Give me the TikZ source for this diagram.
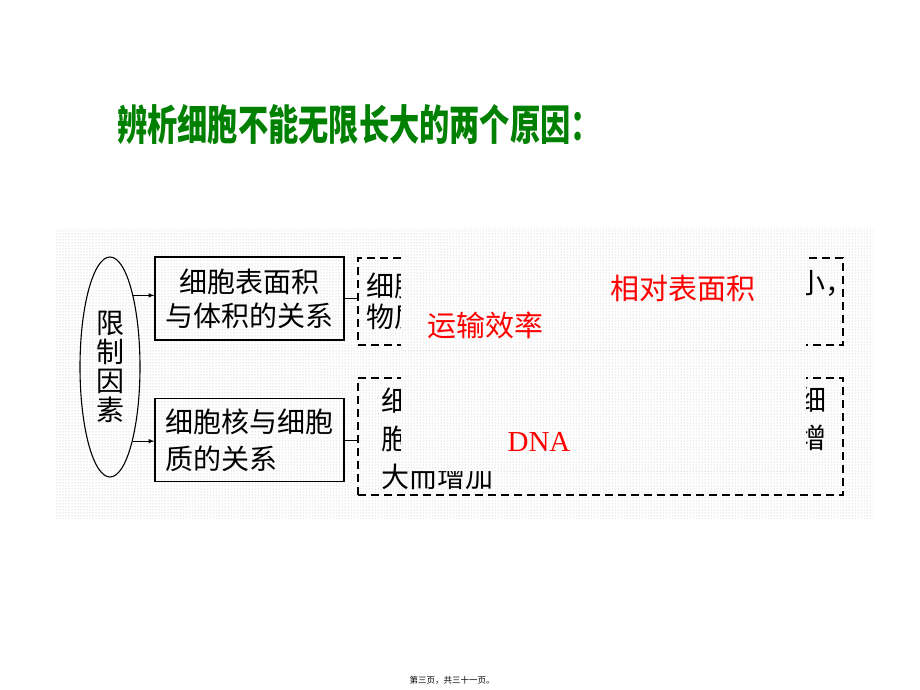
\documentclass[tikz,border=0pt]{standalone}
\usepackage{fontspec}
\setmainfont{Liberation Serif}
\newfontfamily\cjk{Noto Sans CJK SC}
\usepackage{xcolor}
\usepackage{tikz}
\usetikzlibrary{shapes, arrows, positioning, patterns}
\definecolor{titlegreen}{RGB}{0,128,0}
\tikzset{
  factor/.style={draw, ellipse, line width=1.1pt, minimum width=60pt, minimum height=220pt, inner sep=0pt, align=center},
  relbox/.style={draw, line width=1.2pt, minimum width=189pt, minimum height=83pt, inner sep=0pt},
  dashbox/.style={draw, line width=1.5pt, dash pattern=on 8pt off 5pt, minimum width=485pt},
  frag/.style={inner sep=0pt, align=left},
  answer/.style={text=red, font=\cjk\fontsize{29}{29}\selectfont},
  dotted bg/.style={fill=white, postaction={pattern=dots, pattern color=black!28}}
}
\begin{document}
\begin{tikzpicture}[x=1pt,y=-1pt]
        \useasboundingbox (0,0) rectangle (920,690);
        \fill[white] (0,0) rectangle (920,690);
        \path[dotted bg] (55,228) rectangle (873,518);
        \begin{scope}[every node/.style={font=\cjk\fontsize{28}{34}\selectfont}]
          \node[factor, font=\cjk\fontsize{28}{29}\selectfont] (yinsu) at (110,367) {限\\制\\因\\素};
          \node[relbox, align=center] (biao) at (249.5,298.5) {细胞表面积\\与体积的关系};
          \node[relbox, align=left, font=\cjk\fontsize{28}{37}\selectfont] (he) at (249.5,440) {细胞核与细胞\\质的关系};
          \node[dashbox, minimum height=87pt] (xiao) at (600.5,301.5) {};
          \node[dashbox, minimum height=117pt] (dna) at (600.5,436.5) {};
        \end{scope}
        \begin{scope}[every node/.style={frag, font=\cjk\fontsize{28}{31}\selectfont}]
          \node[anchor=west] (t1) at (366,301.5) {细胞\\物质};
          \node[anchor=east] (t2) at (854,283) {小，};
          \node[anchor=west, font=\cjk\fontsize{28}{38}\selectfont] (t3) at (381,439) {细胞\\胞核\\大而增加};
          \node[anchor=west, font=\cjk\fontsize{28}{38}\selectfont] (t4) at (798,419) {细\\增};
        \end{scope}
        % blanks
        \path[dotted bg] (401,250) rectangle (806,350);
        \path[dotted bg] (401,371) rectangle (806,471);
        \begin{scope}[every edge/.style={draw=black,line width=1pt}]
          \path (yinsu.72) edge[-latex] (yinsu.72 -| biao.west);
          \path (yinsu.-73) edge[-latex] (yinsu.-73 -| he.west);
          \path (biao.east) edge (biao.east -| xiao.west);
          \path (he.east) edge (he.east -| dna.west);
        \end{scope}
        \node[answer] (xdmj) at (683,288) {相对表面积};
        \node[answer] (ysxl) at (485,325) {运输效率};
        \node[answer, font=\fontsize{29}{29}\selectfont] (dnaans) at (539,442) {DNA};
        \node[font=\cjk\bfseries\fontsize{42}{42}\selectfont, text=titlegreen] (title) at (359,125) {\scalebox{0.72}[1]{辨析细胞不能无限长大的两个原因：}};
        \node[font=\cjk\fontsize{8.5}{8.5}\selectfont] (page) at (452,680) {第三页，共三十一页。};
      \end{tikzpicture}
\end{document}
